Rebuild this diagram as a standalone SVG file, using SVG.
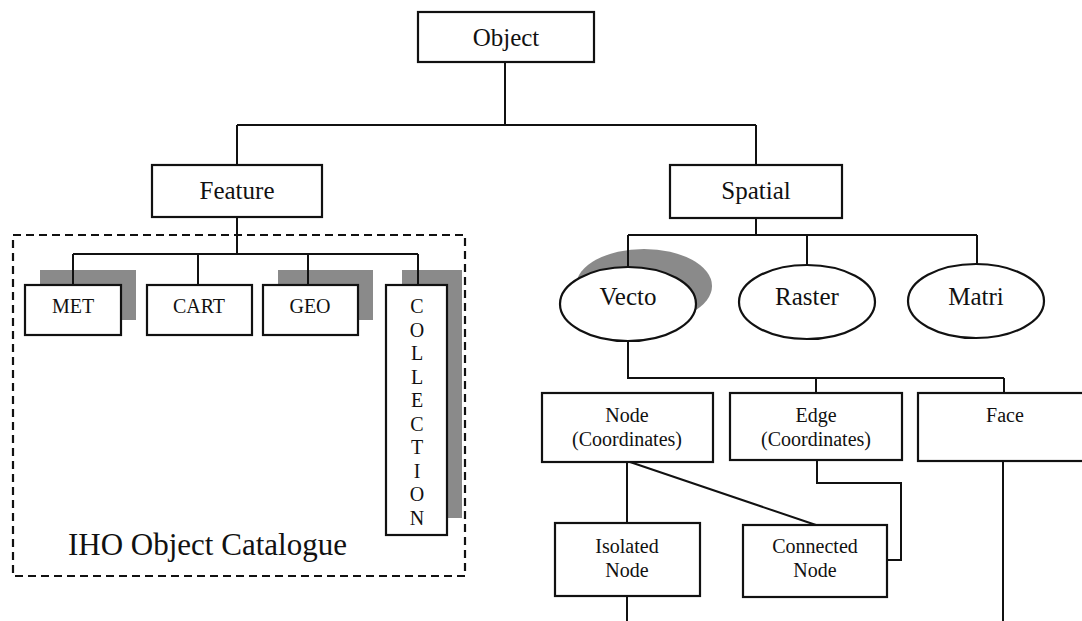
<svg xmlns="http://www.w3.org/2000/svg" width="1082" height="621" viewBox="0 0 1082 621">
  <style>
    .box { fill: #ffffff; stroke: #111111; stroke-width: 2.2; }
    .ell { fill: #ffffff; stroke: #111111; stroke-width: 2.2; }
    .shadow { fill: #8a8a8a; }
    .wire { fill: none; stroke: #111111; stroke-width: 2; }
    .frame { fill: none; stroke: #111111; stroke-width: 2.2; stroke-dasharray: 8 5; }
    text { font-family: "Liberation Serif", "Times New Roman", serif; fill: #111111; text-anchor: middle; }
    .big { font-size: 25px; }
    .mid { font-size: 20px; }
    .cap { font-size: 31px; text-anchor: start; }
  </style>

  <rect width="1082" height="621" fill="#ffffff"/>

  <!-- catalogue frame -->
  <rect class="frame" x="13" y="235" width="452" height="341"/>
  <text class="cap" x="68" y="555">IHO Object Catalogue</text>

  <!-- drop shadows behind shaded items -->
  <g id="shadows">
    <rect class="shadow" x="40" y="270" width="96" height="50"/>
    <rect class="shadow" x="278" y="270" width="95" height="50"/>
    <rect class="shadow" x="402" y="270" width="60" height="248"/>
    <ellipse class="shadow" cx="644" cy="286" rx="68" ry="37"/>
  </g>

  <g id="connectors">
    <!-- Object to Feature / Spatial -->
    <path class="wire" d="M505 62 V125 M237 125 H756 M237 125 V165 M756 125 V165"/>
    <!-- Feature to catalogue classes -->
    <path class="wire" d="M237 217 V254 M73 254 H418 M73 254 V285 M198 254 V285 M308 254 V285 M418 254 V285"/>
    <!-- Spatial to model types -->
    <path class="wire" d="M756 218 V235 M628 235 H977 M628 235 V268 M807 235 V265 M977 235 V264"/>
    <!-- Vector to primitives -->
    <path class="wire" d="M628 340 V378 H1004 M816 378 V393 M1004 378 V393"/>
    <!-- Node primitives -->
    <path class="wire" d="M627 462 V523 M627 596 V621 M630 462 L816 525"/>
    <!-- Edge to connected node -->
    <path class="wire" d="M817 460 V483 H901 V560 H887"/>
    <!-- Face downward -->
    <path class="wire" d="M1003 461 V621"/>
  </g>

  <g id="object">
    <rect class="box" x="418" y="12" width="176" height="50"/>
    <text class="big" x="506" y="46">Object</text>
  </g>

  <g id="feature">
    <rect class="box" x="152" y="165" width="170" height="52"/>
    <text class="big" x="237" y="199">Feature</text>
  </g>

  <g id="spatial">
    <rect class="box" x="670" y="165" width="172" height="53"/>
    <text class="big" x="756" y="199">Spatial</text>
  </g>

  <g id="met">
    <rect class="box" x="25" y="285" width="96" height="50"/>
    <text class="mid" x="73" y="313">MET</text>
  </g>

  <g id="cart">
    <rect class="box" x="147" y="285" width="105" height="50"/>
    <text class="mid" x="199" y="313">CART</text>
  </g>

  <g id="geo">
    <rect class="box" x="263" y="285" width="95" height="50"/>
    <text class="mid" x="310" y="313">GEO</text>
  </g>

  <g id="collection">
    <rect class="box" x="386" y="285" width="61" height="250"/>
    <text class="mid" x="417" y="313">C</text>
    <text class="mid" x="417" y="336.5">O</text>
    <text class="mid" x="417" y="360">L</text>
    <text class="mid" x="417" y="383.5">L</text>
    <text class="mid" x="417" y="407">E</text>
    <text class="mid" x="417" y="430.5">C</text>
    <text class="mid" x="417" y="454">T</text>
    <text class="mid" x="417" y="477.5">I</text>
    <text class="mid" x="417" y="501">O</text>
    <text class="mid" x="417" y="524.5">N</text>
  </g>

  <g id="vector">
    <ellipse class="ell" cx="628" cy="304" rx="68" ry="37"/>
    <text class="big" x="628" y="305">Vecto</text>
  </g>

  <g id="raster">
    <ellipse class="ell" cx="807" cy="302" rx="68" ry="37"/>
    <text class="big" x="807" y="305">Raster</text>
  </g>

  <g id="matrix">
    <ellipse class="ell" cx="976" cy="301" rx="68" ry="37"/>
    <text class="big" x="976" y="305">Matri</text>
  </g>

  <g id="node">
    <rect class="box" x="542" y="393" width="171" height="69"/>
    <text class="mid" x="627" y="422">Node</text>
    <text class="mid" x="627" y="446">(Coordinates)</text>
  </g>

  <g id="edge">
    <rect class="box" x="730" y="393" width="172" height="67"/>
    <text class="mid" x="816" y="422">Edge</text>
    <text class="mid" x="816" y="446">(Coordinates)</text>
  </g>

  <g id="face">
    <rect class="box" x="918" y="393" width="172" height="68"/>
    <text class="mid" x="1005" y="422">Face</text>
  </g>

  <g id="isolated-node">
    <rect class="box" x="555" y="523" width="145" height="73"/>
    <text class="mid" x="627" y="553">Isolated</text>
    <text class="mid" x="627" y="577">Node</text>
  </g>

  <g id="connected-node">
    <rect class="box" x="743" y="525" width="144" height="72"/>
    <text class="mid" x="815" y="553">Connected</text>
    <text class="mid" x="815" y="577">Node</text>
  </g>
</svg>
